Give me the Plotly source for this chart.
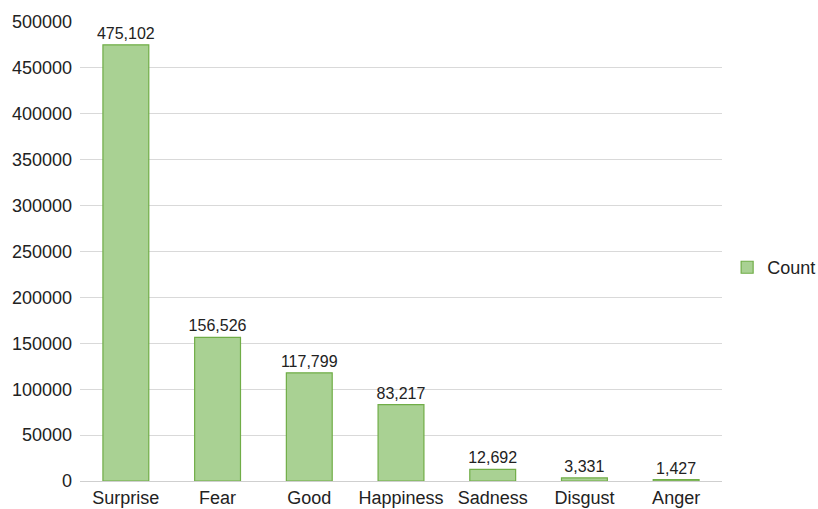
import plotly.graph_objects as go

categories = ["Surprise", "Fear", "Good", "Happiness", "Sadness", "Disgust", "Anger"]
counts = [475102, 156526, 117799, 83217, 12692, 3331, 1427]
y_ticks = [0, 50000, 100000, 150000, 200000, 250000, 300000, 350000, 400000, 450000, 500000]

FONT = "Liberation Sans, Arial, Helvetica, sans-serif"

fig = go.Figure()
fig.add_trace(go.Bar(
    x=categories, y=counts, name="Count",
    marker=dict(color="#a9d193", line=dict(color="#70ad47", width=1.2)),
    texttemplate="%{y:,}", textposition="outside", constraintext="none",
    textfont=dict(size=16, color="#222222", family=FONT),
    cliponaxis=False,
))
fig.update_layout(
    width=818, height=509,
    margin=dict(l=80, r=96, t=22, b=28, autoexpand=False),
    plot_bgcolor="white", paper_bgcolor="white",
    font=dict(family=FONT, size=18, color="#222222"),
    bargap=0.5,
    showlegend=True,
    legend=dict(x=1.008, xanchor="left", y=0.465, yanchor="middle", font=dict(size=18),
                itemwidth=30, bgcolor="rgba(0,0,0,0)", xref="paper"),
    xaxis=dict(showgrid=False, showline=False, ticks="", ticklabelstandoff=4,
               automargin=False),
    yaxis=dict(range=[0, 500000], tickvals=y_ticks, tickformat="d",
               showgrid=True, gridcolor="#d9d9d9", gridwidth=1,
               zeroline=True, zerolinecolor="#cfcfcf", zerolinewidth=1,
               showline=False, ticks="", ticklabelstandoff=7, automargin=False),
)
fig.write_html("out.html")
